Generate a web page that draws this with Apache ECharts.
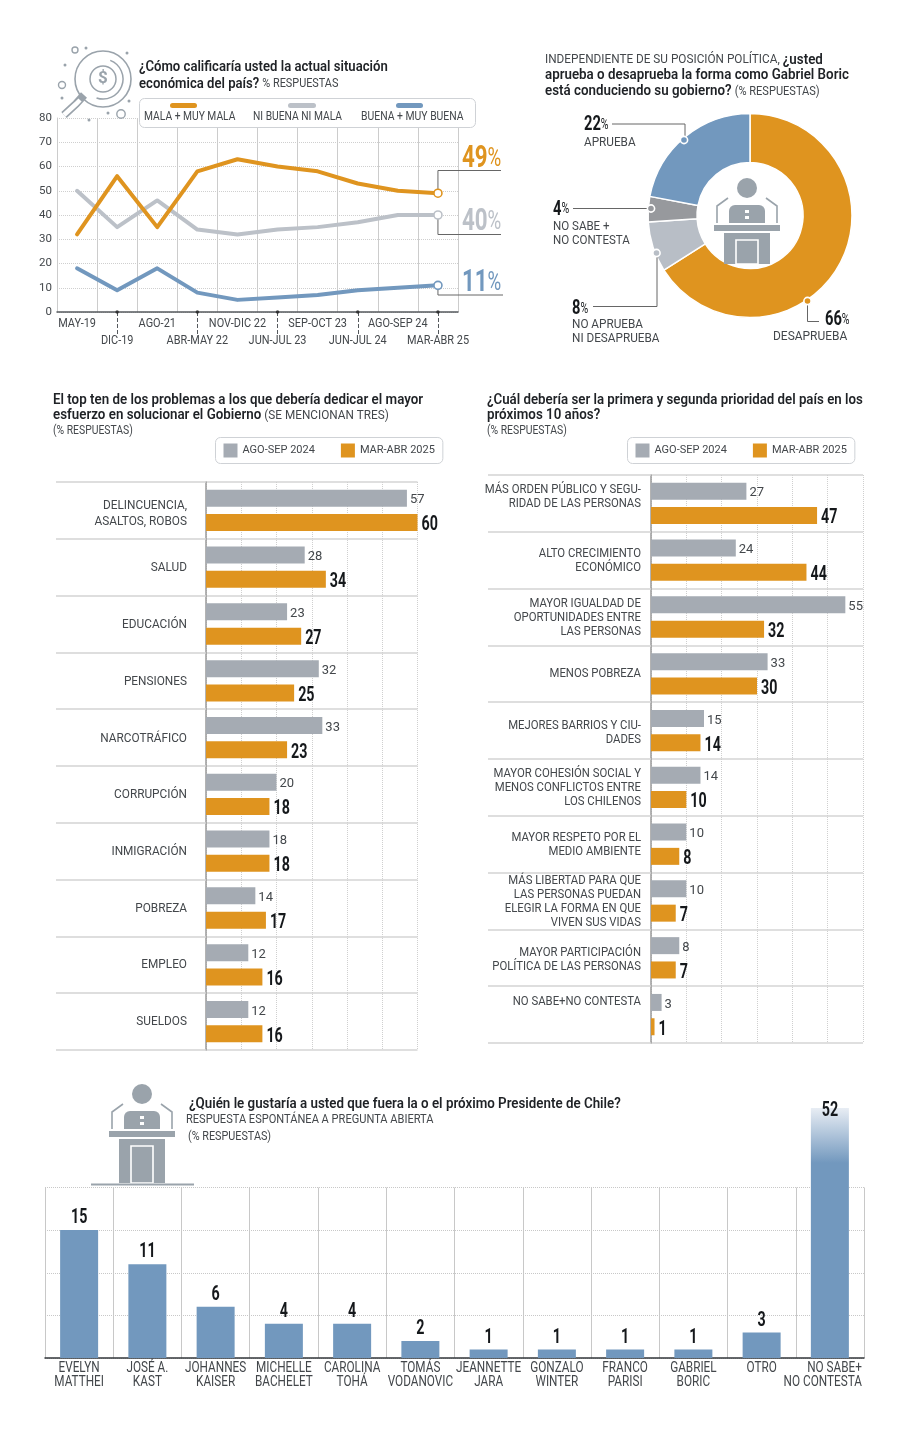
<!DOCTYPE html>
<html>
<head>
<meta charset="utf-8">
<style>
  html, body { margin: 0; padding: 0; background: #fff; }
  #main { width: 910px; height: 1440px; }
</style>
</head>
<body>
<div id="main"></div>
<script src="https://cdn.jsdelivr.net/npm/echarts@6/dist/echarts.min.js"></script>
<script>
// datos
const periodos = ['MAY-19', 'DIC-19', 'AGO-21', 'ABR-MAY 22', 'NOV-DIC 22', 'JUN-JUL 23', 'SEP-OCT 23', 'JUN-JUL 24', 'AGO-SEP 24', 'MAR-ABR 25']
const malaMuyMala = [32, 56, 35, 58, 63, 60, 58, 53, 50, 49]
const niBuenaNiMala = [50, 35, 46, 34, 32, 34, 35, 37, 40, 40]
const buenaMuyBuena = [18, 9, 18, 8, 5, 6, 7, 9, 10, 11]

const aprobacionNombres = ['DESAPRUEBA', 'NO APRUEBA NI DESAPRUEBA', 'NO SABE + NO CONTESTA', 'APRUEBA']
const aprobacionValores = [66, 8, 4, 22]

const problemas = ['DELINCUENCIA,\nASALTOS, ROBOS', 'SALUD', 'EDUCACIÓN', 'PENSIONES', 'NARCOTRÁFICO', 'CORRUPCIÓN', 'INMIGRACIÓN', 'POBREZA', 'EMPLEO', 'SUELDOS']
const problemas2024 = [57, 28, 23, 32, 33, 20, 18, 14, 12, 12]
const problemas2025 = [60, 34, 27, 25, 23, 18, 18, 17, 16, 16]

const prioridades = [
  'MÁS ORDEN PÚBLICO Y SEGU-\nRIDAD DE LAS PERSONAS\n ',
  'ALTO CRECIMIENTO\nECONÓMICO',
  'MAYOR IGUALDAD DE\nOPORTUNIDADES ENTRE\nLAS PERSONAS',
  'MENOS POBREZA',
  'MEJORES BARRIOS Y CIU-\nDADES',
  'MAYOR COHESIÓN SOCIAL Y\nMENOS CONFLICTOS ENTRE\nLOS CHILENOS',
  'MAYOR RESPETO POR EL\nMEDIO AMBIENTE',
  'MÁS LIBERTAD PARA QUE\nLAS PERSONAS PUEDAN\nELEGIR LA FORMA EN QUE\nVIVEN SUS VIDAS',
  'MAYOR PARTICIPACIÓN\nPOLÍTICA DE LAS PERSONAS',
  'NO SABE+NO CONTESTA\n \n '
]
const prioridades2024 = [27, 24, 55, 33, 15, 14, 10, 10, 8, 3]
const prioridades2025 = [47, 44, 32, 30, 14, 10, 8, 7, 7, 1]

const candidatos = ['EVELYN\nMATTHEI', 'JOSÉ A.\nKAST', 'JOHANNES\nKAISER', 'MICHELLE\nBACHELET', 'CAROLINA\nTOHÁ', 'TOMÁS\nVODANOVIC', 'JEANNETTE\nJARA', 'GONZALO\nWINTER', 'FRANCO\nPARISI', 'GABRIEL\nBORIC', 'OTRO', 'NO SABE+\nNO CONTESTA']
const candidatosValores = [15, 11, 6, 4, 4, 2, 1, 1, 1, 1, 3, 52]

const NARANJA = '#DF941F'
const GRIS_LINEA = '#BCC1C8'
const AZUL = '#7298BE'
const GRIS_BARRA = '#A5ABB3'
const ICONO = '#9AA3AB'
const TEXTO = '#43474b'
const TITULO = '#1f2226'
const NEGRO = '#15181b'
const SANS = 'Roboto'
// no hay fuente condensada instalada, se angosta el texto con scaleX
const ANCHO = 0.84
const ANCHO_NUM = 0.68
const TOPE_CANDIDATOS = 29.3

// elementos sueltos de graphic
function txt(x, y, text, o) {
  o = o || {}
  return {
    type: 'text', x: x, y: y + 2, scaleX: o.sx || ANCHO, silent: true, z: 20,
    style: {
      text: text,
      fontFamily: SANS,
      fontSize: o.size || 13.5,
      fontWeight: o.weight || 'normal',
      fill: o.color || TEXTO,
      align: o.align || 'left',
      verticalAlign: 'middle',
      rich: o.rich
    }
  }
}
const richTitulo = {
  b: { fontFamily: SANS, fontSize: 14.5, fontWeight: 600, fill: TITULO },
  r: { fontFamily: SANS, fontSize: 12, fill: TEXTO },
  m: { fontFamily: SANS, fontSize: 12.8, fill: TEXTO }
}
function titulo(x, y, text, sx) {
  return txt(x, y, text, { rich: richTitulo, sx: sx || 0.92 })
}
function numPct(x, y, valor) {
  return txt(x, y + 1, '{n|' + valor + '}{p|%}', {
    sx: 0.7,
    rich: {
      n: { fontFamily: SANS, fontSize: 21, fontWeight: 'bold', fill: NEGRO },
      p: { fontFamily: SANS, fontSize: 15, fill: NEGRO }
    }
  })
}
function linea(points, color, width) {
  return { type: 'polyline', silent: true, z: 15, shape: { points: points }, style: { stroke: color || '#666', lineWidth: width || 1, fill: null } }
}
function dot(x, y, color) {
  return { type: 'circle', silent: true, z: 16, shape: { cx: x, cy: y, r: 3.6 }, style: { fill: color, stroke: '#fff', lineWidth: 1.6 } }
}
function rect(x, y, w, h, fill, r) {
  return { type: 'rect', silent: true, z: 14, shape: { x: x, y: y, width: w, height: h, r: r || 0 }, style: { fill: fill } }
}
function podio(cx, y0, altoPie) {
  return [
    { type: 'circle', silent: true, z: 14, shape: { cx: cx, cy: y0, r: 10 }, style: { fill: ICONO } },
    rect(cx - 18, y0 + 17, 36, 18, ICONO, [6, 6, 0, 0]),
    rect(cx - 2, y0 + 22, 4, 3, '#fff'),
    rect(cx - 2, y0 + 28, 4, 3, '#fff'),
    linea([[cx - 19, y0 + 10], [cx - 30, y0 + 18], [cx - 30, y0 + 35]], ICONO, 1.6),
    linea([[cx + 19, y0 + 10], [cx + 30, y0 + 18], [cx + 30, y0 + 35]], ICONO, 1.6),
    rect(cx - 33, y0 + 37, 66, 6, ICONO),
    rect(cx - 23, y0 + 45, 46, altoPie, ICONO),
    { type: 'rect', silent: true, z: 15, shape: { x: cx - 11, y: y0 + 52, width: 22, height: altoPie - 7 }, style: { fill: ICONO, stroke: '#fff', lineWidth: 1.6 } }
  ]
}
function circulo(cx, cy, r, lw) {
  return { type: 'circle', silent: true, z: 14, shape: { cx: cx, cy: cy, r: r }, style: { fill: null, stroke: ICONO, lineWidth: lw || 1.5 } }
}
function puntito(cx, cy) {
  return { type: 'circle', silent: true, z: 14, shape: { cx: cx, cy: cy, r: 1.5 }, style: { fill: ICONO } }
}
function lupa() {
  return [
    circulo(103, 79, 28, 1.6),
    circulo(103, 79, 13, 1.5),
    { type: 'arc', silent: true, z: 14, shape: { cx: 103, cy: 79, r: 20, startAngle: -1.2, endAngle: 1.9 }, style: { stroke: ICONO, lineWidth: 1.5, fill: null } },
    txt(103, 77, '$', { size: 17, weight: 'bold', color: ICONO, align: 'center', sx: 1 }),
    linea([[84, 95], [76, 104], [64, 115]], ICONO, 8),
    linea([[80, 100], [76, 104], [64, 115]], '#fff', 4.5),
    circulo(75, 50, 3, 1.4),
    circulo(62, 85, 3.5, 1.4),
    circulo(121, 114, 4.2, 1.4),
    puntito(86, 48), puntito(127, 53), puntito(65, 65), puntito(62, 98), puntito(129, 101), puntito(108, 113), puntito(89, 120)
  ]
}

const cajaLeyenda = { type: 'rect', silent: true, z: 12, shape: { x: 139.5, y: 98.5, width: 336, height: 29, r: 5 }, style: { fill: '#fff', stroke: '#cfd2d6', lineWidth: 1 } }

const elementos = [
  ...lupa(),
  titulo(139, 65, '{b|¿Cómo calificaría usted la actual situación}', 0.905),
  titulo(139, 82, '{b|económica del país?} {r|% RESPUESTAS}', 0.905),
  cajaLeyenda,
  rect(170, 103, 27, 5, NARANJA, 2.5), rect(288, 103, 28, 5, GRIS_LINEA, 2.5), rect(396, 103, 27, 5, AZUL, 2.5),
  txt(144, 115, 'MALA + MUY MALA', { size: 13, sx: 0.79 }),
  txt(253, 115, 'NI BUENA NI MALA', { size: 13, sx: 0.79 }),
  txt(361, 115, 'BUENA + MUY BUENA', { size: 13, sx: 0.8 }),

  titulo(545, 58, '{m|INDEPENDIENTE DE SU POSICIÓN POLÍTICA,} {b|¿usted}'),
  titulo(545, 73.5, '{b|aprueba o desaprueba la forma como Gabriel Boric}'),
  titulo(545, 89.5, '{b|está conduciendo su gobierno?} {r|(% RESPUESTAS)}'),
  ...podio(747, 188, 31),
  numPct(584, 122, aprobacionValores[3]),
  txt(584, 141, 'APRUEBA', { sx: 0.87 }),
  linea([[612, 124], [685, 124], [685, 138]]), dot(684, 140, AZUL),
  numPct(553, 206.5, aprobacionValores[2]),
  txt(553, 225, 'NO SABE +', { sx: 0.855 }), txt(553, 239, 'NO CONTESTA', { sx: 0.855 }),
  linea([[573, 208.5], [648, 208.5]]), dot(651, 208.5, '#97999D'),
  numPct(572, 306, aprobacionValores[1]),
  txt(572, 323, 'NO APRUEBA', { sx: 0.87 }), txt(572, 337, 'NI DESAPRUEBA', { sx: 0.87 }),
  linea([[593, 306.5], [657, 306.5], [657, 256]]), dot(656.5, 253, '#B8BEC6'),
  numPct(825, 317, aprobacionValores[0]),
  txt(773, 335, 'DESAPRUEBA', { sx: 0.885 }),
  linea([[807.5, 304], [807.5, 321.5], [819, 321.5]]), dot(807.5, 301, NARANJA),

  titulo(53, 398, '{b|El top ten de los problemas a los que debería dedicar el mayor}'),
  titulo(53, 413.5, '{b|esfuerzo en solucionar el Gobierno} {m|(SE MENCIONAN TRES)}'),
  txt(53, 429, '(% RESPUESTAS)', { size: 12.5, sx: 0.83 }),

  titulo(487, 398, '{b|¿Cuál debería ser la primera y segunda prioridad del país en los}', 0.915),
  titulo(487, 413.5, '{b|próximos 10 años?}'),
  txt(487, 429, '(% RESPUESTAS)', { size: 12.5, sx: 0.83 }),

  ...podio(142, 1094, 44),
  linea([[91, 1184.5], [194, 1184.5]], ICONO, 2),
  titulo(189, 1102, '{b|¿Quién le gustaría a usted que fuera la o el próximo Presidente de Chile?}'),
  txt(186, 1118, 'RESPUESTA ESPONTÁNEA A PREGUNTA ABIERTA', { sx: 0.82 }),
  txt(188, 1135, '(% RESPUESTAS)', { sx: 0.8 })
]

function leyendaBarras(left, top) {
  return {
    left: left, top: top, padding: [6, 8, 6, 8], itemGap: 26, itemWidth: 14, itemHeight: 14,
    borderColor: '#cfd2d6', borderWidth: 1, borderRadius: 5,
    selectedMode: false, icon: 'rect',
    data: ['AGO-SEP 2024', 'MAR-ABR 2025'],
    textStyle: { fontFamily: SANS, fontSize: 11, color: TEXTO }
  }
}
function ejeValorBarras(gridIndex) {
  return {
    type: 'value', gridIndex: gridIndex, min: 0, max: 60, interval: 10,
    axisLabel: { show: false }, axisLine: { show: false }, axisTick: { show: false },
    splitLine: { lineStyle: { color: '#cfcfcf', type: 'dotted' } }
  }
}
function ejeCategoriaBarras(gridIndex, data, largo) {
  return {
    type: 'category', gridIndex: gridIndex, data: data, inverse: true,
    axisLine: { lineStyle: { color: '#9a9a9a', width: 1.5 } },
    axisTick: { show: true, length: largo, lineStyle: { color: '#d4d4d4', width: 1.5 } },
    splitLine: { show: true, interval: 0, lineStyle: { color: '#d4d4d4', width: 1.5 } },
    axisLabel: { show: false }
  }
}
function serieBarras(nombre, idx, datos, color, conEtiqueta) {
  return {
    type: 'bar', name: nombre, xAxisIndex: idx, yAxisIndex: idx, data: datos,
    barWidth: 17, barGap: '43%',
    itemStyle: { color: color },
    label: { show: conEtiqueta, position: 'right', distance: 3, offset: [0, 2], fontFamily: SANS, fontSize: 13, color: TEXTO }
  }
}
// series de texto: mismas escalas de la grilla, con texto angostado
function serieTexto(idx, datos, render) {
  return {
    type: 'custom', name: 'texto', xAxisIndex: idx, yAxisIndex: idx, silent: true, z: 10,
    encode: { x: 0, y: 1 },
    data: datos,
    renderItem: render
  }
}
function elTexto(x, y, text, o) {
  return {
    type: 'text', x: x, y: y, scaleX: o.sx,
    style: {
      text: text, fontFamily: SANS, fontSize: o.size, fontWeight: o.weight || 'normal', fill: o.color,
      lineHeight: o.lh, align: o.align || 'left', verticalAlign: o.va || 'middle', rich: o.rich
    }
  }
}
function etiquetasCategoria(idx, cats, margen, lh, sx, ajustes) {
  return serieTexto(idx, cats.map((c, i) => [0, i]), (params, api) => {
    const p = api.coord([api.value(0), api.value(1)])
    return elTexto(p[0] - margen, p[1] + ajustes[params.dataIndex], cats[params.dataIndex], { sx: sx, size: 13.5, lh: lh, color: TEXTO, align: 'right' })
  })
}
function valoresDestacados(idx, valores) {
  return serieTexto(idx, valores.map((v, i) => [v, i]), (params, api) => {
    const p = api.coord([api.value(0), api.value(1)])
    return elTexto(p[0] + 4, p[1] + 14.8, String(valores[params.dataIndex]), { sx: ANCHO_NUM, size: 21, weight: 'bold', color: NEGRO })
  })
}
function serieLinea(nombre, datos, color) {
  const ultimo = datos.length - 1
  return {
    type: 'line', name: nombre, xAxisIndex: 0, yAxisIndex: 0, data: datos,
    symbol: (v, p) => (p.dataIndex === ultimo ? 'circle' : 'none'),
    symbolSize: 8,
    lineStyle: { color: color, width: 4, cap: 'round', join: 'round' },
    itemStyle: { color: '#fff', borderColor: color, borderWidth: 1.6 },
    z: 5
  }
}
function rotuloFinal(datos, color, dy) {
  const i = datos.length - 1
  return serieTexto(0, [[i, datos[i]]], (params, api) => {
    const p = api.coord([api.value(0), api.value(1)])
    return elTexto(p[0] + 24, p[1] + dy, '{n|' + datos[i] + '}{p|%}', {
      sx: 0.72, size: 31, color: color,
      rich: {
        n: { fontFamily: SANS, fontSize: 31, fontWeight: 'bold', fill: color },
        p: { fontFamily: SANS, fontSize: 26, fill: color }
      }
    })
  })
}

const option = {
  animation: false,
  backgroundColor: '#fff',
  legend: [leyendaBarras(215.5, 437.5), leyendaBarras(627.5, 437.5)],
  grid: [
    { left: 57, top: 118, width: 401, height: 194 },
    { left: 206, top: 482, width: 211.5, height: 568 },
    { left: 651, top: 475, width: 212, height: 568 },
    { left: 45, top: 1187.5, width: 819, height: 170.5 },
    { left: 45, top: 1108, width: 819, height: 250 }
  ],
  xAxis: [
    {
      type: 'category', gridIndex: 0, data: periodos,
      axisLine: { lineStyle: { color: '#55595d', width: 1.5 } },
      axisTick: { show: true, interval: i => i % 2 === 1, alignWithLabel: true, length: 24, lineStyle: { color: '#55595d', type: 'dashed' } },
      splitLine: { show: true, interval: 0, lineStyle: { color: '#cccccc' } },
      axisLabel: { show: false }
    },
    ejeValorBarras(1),
    ejeValorBarras(2),
    {
      type: 'category', gridIndex: 3, data: candidatos,
      axisLabel: { show: false }, axisTick: { show: false }, axisLine: { show: false },
      splitLine: { show: true, interval: 0, lineStyle: { color: '#c8c8c8' } }
    },
    {
      type: 'category', gridIndex: 4, data: candidatos,
      axisTick: { show: false },
      axisLine: { lineStyle: { color: '#33373b', width: 1.5 } },
      axisLabel: { show: false }
    }
  ],
  yAxis: [
    {
      type: 'value', gridIndex: 0, min: 0, max: 80, interval: 10,
      axisLine: { show: true, lineStyle: { color: '#cccccc' } }, axisTick: { show: false },
      splitLine: { lineStyle: { color: '#cfcfcf', type: 'dotted' } },
      axisLabel: { margin: 5, padding: [2, 0, 0, 0], fontFamily: SANS, fontSize: 11.5, color: TEXTO }
    },
    ejeCategoriaBarras(1, problemas, 150),
    ejeCategoriaBarras(2, prioridades, 163),
    {
      type: 'value', gridIndex: 3, min: 0, max: 20, interval: 5,
      axisLabel: { show: false }, axisTick: { show: false }, axisLine: { show: false },
      splitLine: { lineStyle: { color: '#c8c8c8', type: 'dotted' } }
    },
    {
      type: 'value', gridIndex: 4, min: 0, max: TOPE_CANDIDATOS,
      axisLabel: { show: false }, axisTick: { show: false }, axisLine: { show: false }, splitLine: { show: false }
    }
  ],
  series: [
    serieLinea('NI BUENA NI MALA', niBuenaNiMala, GRIS_LINEA),
    serieLinea('BUENA + MUY BUENA', buenaMuyBuena, AZUL),
    serieLinea('MALA + MUY MALA', malaMuyMala, NARANJA),
    rotuloFinal(malaMuyMala, NARANJA, -34),
    rotuloFinal(niBuenaNiMala, GRIS_LINEA, 7),
    rotuloFinal(buenaMuyBuena, AZUL, -2),
    {
      type: 'scatter', name: 'marcas', xAxisIndex: 0, yAxisIndex: 0, symbolSize: 3.5, clip: false,
      itemStyle: { color: '#222' }, silent: true,
      data: periodos.map((p, i) => [p, 0]).filter((d, i) => i % 2 === 1)
    },
    serieTexto(0, periodos.map((p, i) => [i, 0]), (params, api) => {
      const p = api.coord([api.value(0), 0])
      const abajo = params.dataIndex % 2 === 1
      return elTexto(p[0], p[1] + (abajo ? 29 : 12), periodos[params.dataIndex], { sx: 0.84, size: 13, color: TEXTO, align: 'center' })
    }),
    {
      type: 'pie', name: 'Aprobación', center: [750, 215.5], radius: [53, 102], startAngle: 90,
      label: { show: false }, silent: true,
      itemStyle: { borderColor: '#fff', borderWidth: 1.5 },
      color: [NARANJA, '#B8BEC6', '#97999D', AZUL],
      data: aprobacionNombres.map((n, i) => ({ name: n, value: aprobacionValores[i] }))
    },
    serieBarras('AGO-SEP 2024', 1, problemas2024, GRIS_BARRA, true),
    serieBarras('MAR-ABR 2025', 1, problemas2025, NARANJA, false),
    etiquetasCategoria(1, problemas, 19, 16, 0.875, [3, 0, 1, 1, 1, 0, 0, 1, 0, 0]),
    valoresDestacados(1, problemas2025),
    serieBarras('AGO-SEP 2024', 2, prioridades2024, GRIS_BARRA, true),
    serieBarras('MAR-ABR 2025', 2, prioridades2025, NARANJA, false),
    etiquetasCategoria(2, prioridades, 10, 14, ANCHO, [0, 0, 1, 0, 2, 0, 0, 1, 2, 1]),
    valoresDestacados(2, prioridades2025),
    // rejilla de fondo, llega hasta 20
    { type: 'bar', name: 'rejilla', xAxisIndex: 3, yAxisIndex: 3, data: [], silent: true },
    {
      type: 'bar', name: 'Candidatos', xAxisIndex: 4, yAxisIndex: 4, barWidth: 38,
      itemStyle: { color: AZUL },
      data: candidatosValores.map((v, i) => i < candidatosValores.length - 1 ? v : {
        value: v,
        itemStyle: { color: new echarts.graphic.LinearGradient(0, 0, 0, 1, [
          { offset: 0, color: '#E8EDF4' }, { offset: 0.22, color: AZUL }, { offset: 1, color: AZUL }
        ]) }
      })
    },
    serieTexto(4, candidatosValores.map((v, i) => [i, Math.min(v, TOPE_CANDIDATOS)]), (params, api) => {
      const p = api.coord([api.value(0), api.value(1)])
      const v = candidatosValores[params.dataIndex]
      return elTexto(p[0], v > TOPE_CANDIDATOS ? p[1] + 3 : p[1] - 12, String(v), { sx: ANCHO_NUM, size: 21, weight: 'bold', color: NEGRO, align: 'center' })
    }),
    serieTexto(4, candidatos.map((c, i) => [i, 0]), (params, api) => {
      const p = api.coord([api.value(0), 0])
      const ultimo = params.dataIndex === candidatos.length - 1
      return elTexto(ultimo ? p[0] + 32 : p[0], p[1] + 3, candidatos[params.dataIndex], {
        sx: ANCHO, size: 14, lh: 14, color: TEXTO, align: ultimo ? 'right' : 'center', va: 'top'
      })
    })
  ],
  graphic: { elements: elementos }
}

const myChart = echarts.init(document.getElementById('main'))
myChart.setOption(option)

// lineas de los rotulos finales, salen del ultimo punto de cada serie
const ultimoX = periodos[periodos.length - 1]
function conector(id, valor, yLinea, xFin) {
  const p = myChart.convertToPixel({ xAxisIndex: 0, yAxisIndex: 0 }, [ultimoX, valor])
  return Object.assign(linea([[p[0], p[1]], [p[0], yLinea], [xFin, yLinea]], '#666', 1), { id: id, z: 4 })
}
myChart.setOption({
  graphic: {
    elements: [
      conector('c49', malaMuyMala[9], 170.5, 501),
      conector('c40', niBuenaNiMala[9], 234.5, 501),
      conector('c11', buenaMuyBuena[9], 295, 503)
    ]
  }
})
window.addEventListener('resize', () => myChart.resize())
</script>
</body>
</html>
